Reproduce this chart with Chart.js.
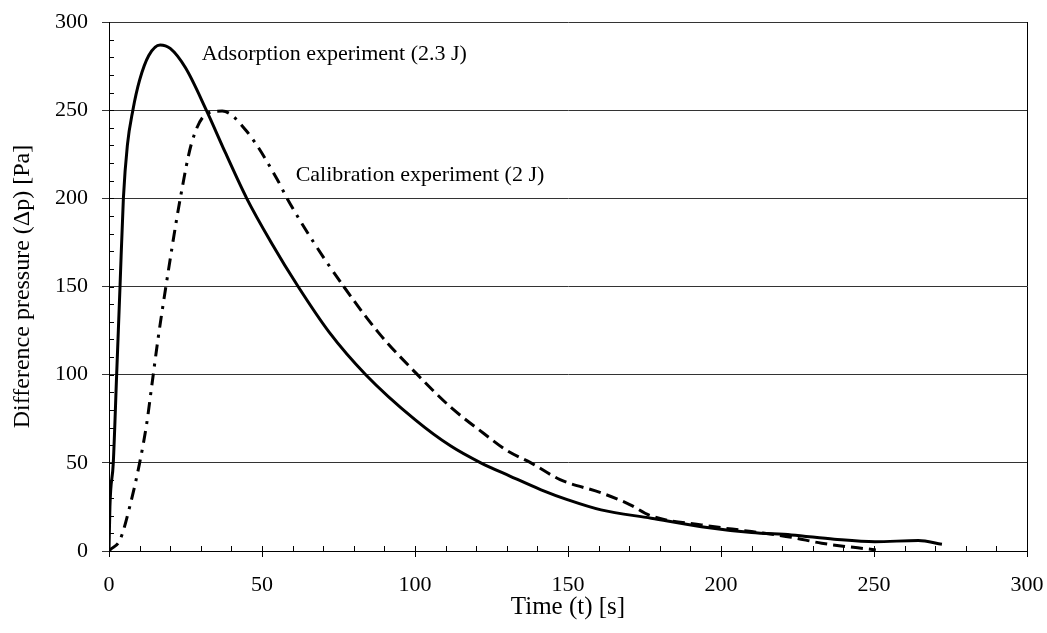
<!DOCTYPE html>
<html>
<head>
<meta charset="utf-8">
<script src="https://cdn.jsdelivr.net/npm/chart.js@4/dist/chart.umd.min.js"></script>
<style>
  html, body { margin: 0; padding: 0; background: #fff; }
  #wrap { width: 1047px; height: 633px; position: relative; }
</style>
</head>
<body>
<div id="wrap"><canvas id="chart"></canvas></div>
<script>
// Adsorption experiment (solid line): time [s] and difference pressure [Pa]
const adsTime = [0, 0.3, 1.4, 2.5, 3.6, 4.7, 6, 7.8, 10, 13, 16.7, 20, 25, 31.8, 38, 45, 53, 61.8, 72, 83.9,
  100, 111.7, 121.5, 131, 141.2, 150, 160.8, 177.2, 193.6, 210, 223, 237, 250.3, 264.5, 272.2];
const adsPressure = [0, 25, 50, 100, 150, 200, 230, 250, 267, 281, 287, 285, 274, 250, 226, 200, 175, 150, 124, 100,
  74.5, 59.5, 50, 42.5, 34.7, 29, 23.3, 18.6, 13.8, 10.5, 9.1, 6.7, 5.3, 5.9, 3.8];

// Calibration experiment (dash-dot line)
const calTime = [0, 0.3, 3.6, 6.9, 9.9, 12.3, 14, 16, 18.6, 23.3, 27.1, 32, 37, 45, 54.9, 58.2, 66.9, 76.7, 88,
  100.8, 111.7, 122.6, 130, 137.9, 147.4, 160.8, 170, 177, 193.6, 210, 223, 232.9, 250.6];
const calPressure = [0, 0.6, 6.3, 26, 49, 72, 94, 120, 150, 200, 232, 248, 249.5, 238, 211, 200, 175, 150, 124,
  100, 81.5, 66.5, 57, 50, 40.5, 33, 26.5, 20, 14.8, 11, 7.8, 4.4, 0.6];

const xTicks = [0, 50, 100, 150, 200, 250, 300];
const yTicks = [0, 50, 100, 150, 200, 250, 300];

const toPoints = (xs, ys) => xs.map((x, i) => ({ x: x, y: ys[i] }));

const FONT = "'Liberation Serif', 'Times New Roman', serif";

// minor inside ticks, right frame line and curve captions
const decorations = {
  id: 'decorations',
  afterDraw(chart) {
    const { ctx, chartArea: a, scales: { x, y } } = chart;
    ctx.save();
    ctx.strokeStyle = '#000';
    ctx.lineWidth = 1;
    ctx.beginPath();
    for (let v = 10; v < 300; v += 10) {
      const px = Math.round(x.getPixelForValue(v)) + 0.5;
      ctx.moveTo(px, a.bottom);
      ctx.lineTo(px, a.bottom - 5);
      const py = Math.round(y.getPixelForValue(v)) + 0.5;
      ctx.moveTo(a.left, py);
      ctx.lineTo(a.left + 5, py);
    }
    // right frame
    const rx = Math.round(x.getPixelForValue(300)) + 0.5;
    ctx.moveTo(rx, a.top);
    ctx.lineTo(rx, a.bottom);
    ctx.stroke();

    ctx.fillStyle = '#000';
    ctx.font = '22px ' + FONT;
    ctx.textAlign = 'left';
    ctx.textBaseline = 'middle';
    ctx.fillText('Adsorption experiment (2.3 J)', x.getPixelForValue(30.3), y.getPixelForValue(282));
    ctx.fillText('Calibration experiment (2 J)', x.getPixelForValue(61), y.getPixelForValue(213));
    ctx.restore();
  }
};

new Chart(document.getElementById('chart'), {
  type: 'line',
  data: {
    datasets: [
      {
        label: 'Adsorption experiment (2.3 J)',
        data: toPoints(adsTime, adsPressure),
        borderColor: '#000',
        borderWidth: 3,
        pointRadius: 0,
        cubicInterpolationMode: 'monotone',
        fill: false
      },
      {
        label: 'Calibration experiment (2 J)',
        data: toPoints(calTime, calPressure),
        borderColor: '#000',
        borderWidth: 3,
        pointRadius: 0,
        cubicInterpolationMode: 'monotone',
        fill: false,
        segment: {
          borderDash: c => c.p0.parsed.x < 75 ? [12, 7, 3, 7] : [12, 6]
        }
      }
    ]
  },
  options: {
    responsive: true,
    maintainAspectRatio: false,
    animation: false,
    events: [],
    layout: { padding: { left: 0, top: 22, right: 20, bottom: 0 } },
    plugins: {
      legend: { display: false },
      tooltip: { enabled: false }
    },
    scales: {
      x: {
        type: 'linear',
        min: 0,
        max: 300,
        afterBuildTicks: s => { s.ticks = xTicks.map(v => ({ value: v })); },
        afterFit: s => { s.height = 82; s.paddingLeft = 0; s.paddingRight = 0; },
        border: { display: true, color: '#000', width: 1 },
        grid: { drawOnChartArea: false, drawTicks: true, tickLength: 6, color: '#000' },
        ticks: { color: '#000', padding: 15, autoSkip: false, maxRotation: 0, font: { family: FONT, size: 22 } },
        title: {
          display: true,
          text: 'Time (t) [s]',
          color: '#000',
          font: { family: FONT, size: 25 },
          padding: { top: 0, bottom: 11 }
        }
      },
      y: {
        type: 'linear',
        min: 0,
        max: 300,
        afterBuildTicks: s => { s.ticks = yTicks.map(v => ({ value: v })); },
        afterFit: s => { s.width = 109; s.paddingTop = 0; s.paddingBottom = 0; },
        border: { display: true, color: '#000', width: 1 },
        grid: { drawOnChartArea: true, drawTicks: true, tickLength: 7, color: '#333', lineWidth: 1 },
        ticks: { color: '#000', padding: 14, font: { family: FONT, size: 22 } },
        title: {
          display: true,
          text: 'Difference pressure (Δp) [Pa]',
          color: '#000',
          font: { family: FONT, size: 24 },
          padding: { top: 8, bottom: 0 }
        }
      }
    }
  },
  plugins: [decorations]
});
</script>
</body>
</html>
